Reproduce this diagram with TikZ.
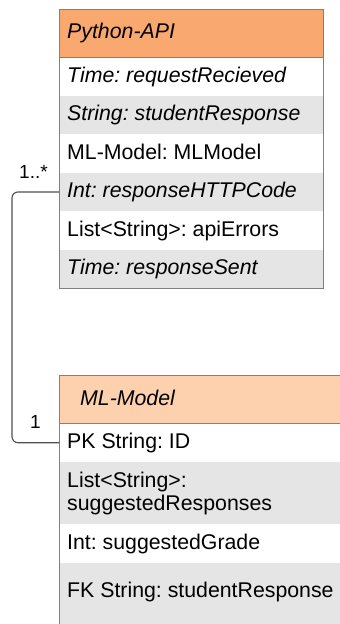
\documentclass[tikz,border=0pt]{standalone}
\usepackage{fontspec}
\setmainfont{Liberation Sans}
\frenchspacing
\definecolor{hdrdark}{RGB}{249,168,112}
\definecolor{hdrlight}{RGB}{253,208,174}
\definecolor{rowgray}{RGB}{229,229,229}
\definecolor{boxline}{RGB}{128,128,128}
\definecolor{connline}{RGB}{80,80,80}
\tikzset{
  rowbox/.style={rectangle, inner sep=0pt, anchor=north west, minimum width=#1},
  whiterow/.style={fill=white, draw=none},
  grayrow/.style={fill=rowgray, draw=none},
  txt/.style={anchor=base west, inner sep=0pt, font=\fontsize{21.3}{23}\selectfont},
  itxt/.style={txt, font=\fontsize{21.3}{23}\selectfont\itshape},
  mult/.style={anchor=base west, inner sep=0pt, font=\fontsize{19}{21}\selectfont},
  conn/.style={draw=connline, line width=1.1pt, rounded corners=6pt},
  outline/.style={draw=boxline, line width=1pt},
}
\begin{document}
\begin{tikzpicture}[x=1pt,y=-1pt]
\useasboundingbox (0,0) rectangle (340,624);
% ---------- Python-API ----------
\node[rowbox=264pt, minimum height=47.5pt, fill=hdrdark] (api) at (59,9.5) {};
\node[rowbox=264pt, minimum height=38.5pt, whiterow] (api1) at (59,57) {};
\node[rowbox=264pt, minimum height=38.5pt, grayrow] (api2) at (59,95.5) {};
\node[rowbox=264pt, minimum height=38.5pt, whiterow] (api3) at (59,134) {};
\node[rowbox=264pt, minimum height=38.5pt, grayrow] (api4) at (59,172.5) {};
\node[rowbox=264pt, minimum height=38.5pt, whiterow] (api5) at (59,211) {};
\node[rowbox=264pt, minimum height=38.5pt, grayrow] (api6) at (59,249.5) {};
\draw[outline] (api.south west) -- (api.south east);
\draw[outline] (api.north west) rectangle (api6.south east);
\node[itxt] (tapi) at (67,38) {Python-API};
\node[itxt] (tapi1) at (67,82) {Time: requestRecieved};
\node[itxt] (tapi2) at (67,120.5) {String: studentResponse};
\node[txt] (tapi3) at (67,159) {ML-Model: MLModel};
\node[itxt] (tapi4) at (67,197.5) {Int: responseHTTPCode};
\node[txt] (tapi5) at (67,236) {List<String>: apiErrors};
\node[itxt] (tapi6) at (67,274.5) {Time: responseSent};
% ---------- ML-Model ----------
\node[rowbox=300pt, minimum height=48pt, fill=hdrlight] (ml) at (59,375) {};
\node[rowbox=300pt, minimum height=39pt, whiterow] (ml1) at (59,423) {};
\node[rowbox=300pt, minimum height=62pt, grayrow] (ml2) at (59,462) {};
\node[rowbox=300pt, minimum height=39pt, whiterow] (ml3) at (59,524) {};
\node[rowbox=300pt, minimum height=70pt, grayrow] (ml4) at (59,563) {};
\draw[outline] (ml.south west) -- (ml.south east);
\draw[outline] (ml4.south west) -- (ml.north west) -- (ml.north east);
\node[itxt] (tml) at (80,405) {ML-Model};
\node[txt] (tml1) at (67,448) {PK String: ID};
\node[txt] (tml2a) at (67,487) {List<String>:};
\node[txt] (tml2b) at (67,510) {suggestedResponses};
\node[txt] (tml3) at (67,549) {Int: suggestedGrade};
\node[txt] (tml4) at (67,597) {FK String: studentResponse};
% ---------- connector ----------
\draw[conn] (api4.west) -- ++(-47,0) |- (ml1.west);
\node[mult] (m1) at (19,178) {1..*};
\node[mult] (m2) at (30,428) {1};
\end{tikzpicture}
\end{document}
